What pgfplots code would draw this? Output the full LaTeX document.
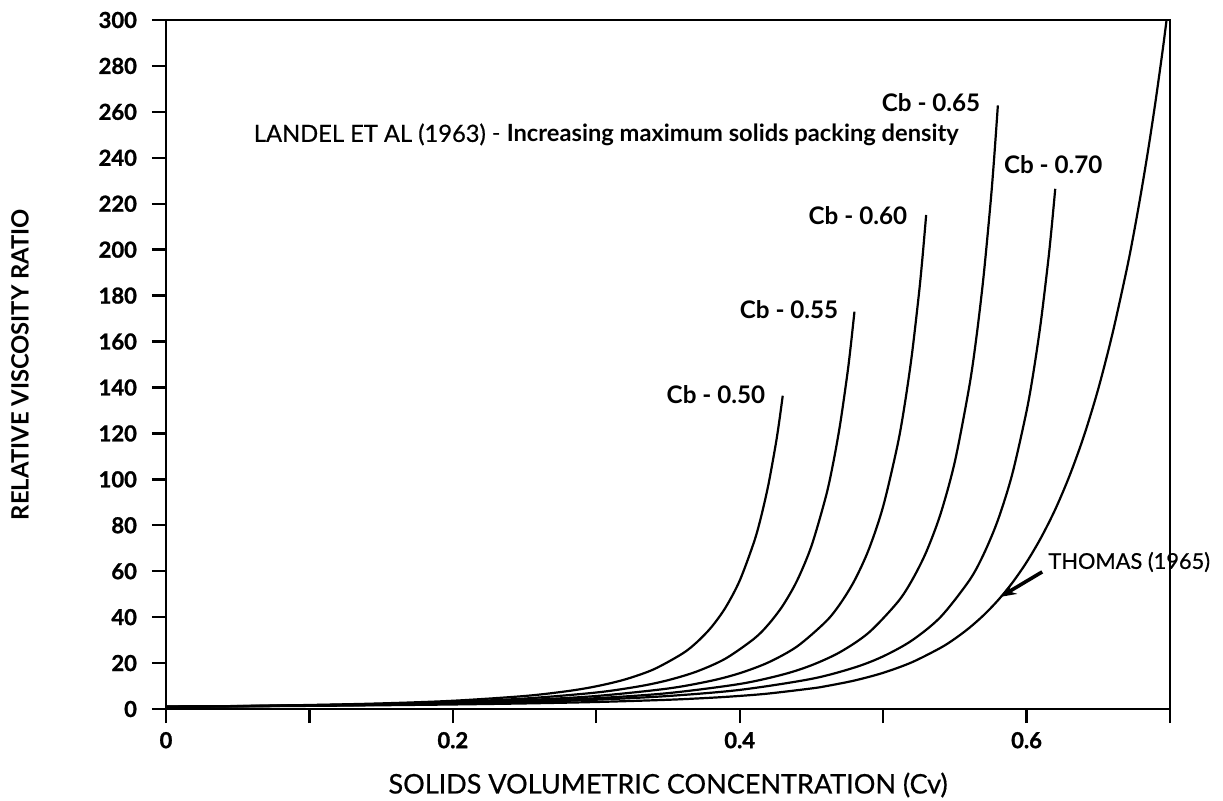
\documentclass[border=0pt]{standalone}
\usepackage{fontspec}
\setmainfont{Lato}
\newfontfamily\heavyfont{Lato}[BoldFeatures={FakeBold=1.2}]
\newfontfamily\mediumfont{Lato}[FakeBold=0.6]
\usepackage{pgfplots}
\pgfplotsset{compat=1.18}
\usetikzlibrary{arrows.meta}

% Relative viscosity of suspensions vs. solids volume fraction.
% Landel et al. (1963) for several maximum packing fractions Cb,
% and the Thomas (1965) correlation.
\pgfplotstableread{
x y
0 1
0.05 1.301
0.10 1.747
0.15 2.439
0.20 3.586
0.25 5.657
0.28 7.787
0.30 9.882
0.32 12.86
0.34 17.26
0.36 24.10
0.37 29.01
0.38 35.44
0.39 44.06
0.40 55.90
0.41 72.75
0.415 83.94
0.42 97.66
0.425 114.8
0.4275 124.9
0.43 136.4
}\cbfifty

\pgfplotstableread{
x y
0 1
0.05 1.269
0.10 1.652
0.15 2.217
0.20 3.096
0.25 4.551
0.30 7.179
0.33 9.882
0.35 12.54
0.37 16.32
0.39 21.91
0.41 30.59
0.42 36.82
0.43 44.98
0.44 55.90
0.45 70.93
0.46 92.32
0.465 106.5
0.47 123.9
0.475 145.6
0.4775 158.5
0.48 173.0
}\cbfiftyfive

\pgfplotstableread{
x y
0 1
0.05 1.243
0.10 1.577
0.15 2.053
0.20 2.756
0.25 3.848
0.30 5.657
0.35 8.922
0.38 12.28
0.40 15.59
0.42 20.29
0.44 27.23
0.46 38.02
0.47 45.76
0.48 55.90
0.49 69.48
0.50 88.18
0.51 114.8
0.515 132.4
0.52 154.0
0.525 181.0
0.5275 197.0
0.53 215.1
}\cbsixty

\pgfplotstableread{
x y
0 1
0.05 1.222
0.10 1.518
0.15 1.927
0.20 2.508
0.25 3.366
0.30 4.700
0.35 6.910
0.40 10.90
0.43 15.00
0.45 19.04
0.47 24.78
0.49 33.26
0.51 46.44
0.52 55.90
0.53 68.28
0.54 84.88
0.55 107.7
0.56 140.2
0.565 161.7
0.57 188.2
0.575 221.1
0.5775 240.7
0.58 262.8
}\cbsixtyfive

\pgfplotstableread{
x y
0 1
0.05 1.204
0.10 1.470
0.15 1.827
0.20 2.319
0.25 3.018
0.30 4.051
0.35 5.657
0.40 8.317
0.45 13.12
0.48 18.06
0.50 22.92
0.52 29.82
0.54 40.03
0.56 55.90
0.57 67.28
0.58 82.20
0.59 102.2
0.60 129.7
0.605 147.4
0.61 168.7
0.615 194.6
0.6175 209.7
0.62 226.5
}\cbseventy

\pgfplotstableread{
x y
0 1.003
0.05 1.156
0.10 1.365
0.15 1.634
0.20 1.978
0.25 2.426
0.30 3.052
0.35 4.017
0.38 4.90
0.40 5.697
0.42 6.73
0.45 8.951
0.46 9.93
0.48 12.40
0.50 15.75
0.52 20.33
0.54 26.62
0.55 30.6
0.56 35.29
0.57 40.8
0.58 47.28
0.59 54.9
0.60 63.9
0.61 74.5
0.62 86.9
0.63 101.6
0.64 118.9
0.65 139.4
0.66 163.7
0.67 191.9
0.675 207.9
0.68 225.4
0.685 244.3
0.69 264.9
0.695 287.3
0.6976 300
}\thomas

\begin{document}
\begin{tikzpicture}
\path[use as bounding box] (-83pt,-45.5pt) rectangle (528.5pt,354.5pt);
\begin{axis}[
  at={(0pt,0pt)}, anchor=south west,
  scale only axis, width=502pt, height=344.5pt,
  xmin=0, xmax=0.7, ymin=0, ymax=300,
  clip=false,
  axis line style={line width=1.3pt},
  tick align=outside,
  xtick pos=bottom, ytick pos=left,
  major tick length=7pt,
  tick style={line width=1.2pt, black},
  xtick={0,0.1,0.2,0.3,0.4,0.5,0.6,0.7},
  xticklabels={0,,0.2,,0.4,,0.6,},
  ytick={0,20,...,300},
  /pgf/number format/assume math mode=true,
  tick label style={font=\fontsize{11}{12}\selectfont\heavyfont\bfseries},
  yticklabel style={xshift=-4pt},
  xticklabel style={yshift=-1pt},
  xlabel={SOLIDS VOLUMETRIC CONCENTRATION (Cv)},
  ylabel={RELATIVE VISCOSITY RATIO},
  xlabel style={at={(axis description cs:0.5,-0.1103)}, anchor=center,
                font=\fontsize{13.5}{15}\selectfont\mediumfont},
  ylabel style={at={(axis description cs:-0.1454,0.5)}, anchor=center,
                font=\fontsize{11.9}{13}\selectfont\bfseries},
  curve/.style={black, line width=1.1pt, smooth, no markers},
]
\addplot[curve] table {\cbfifty};
\addplot[curve] table {\cbfiftyfive};
\addplot[curve] table {\cbsixty};
\addplot[curve] table {\cbsixtyfive};
\addplot[curve] table {\cbseventy};
\addplot[curve] table {\thomas};

\node[anchor=west, font=\fontsize{11.85}{13}\selectfont, inner sep=0pt]
  at (axis cs:0.061,250) {{\mediumfont LANDEL ET AL (1963)} - {\bfseries Increasing maximum solids packing density}};
\begin{scope}[every node/.style={anchor=east, inner sep=0pt, font=\fontsize{12.1}{13}\selectfont\bfseries}]
\node at (axis cs:0.418,136.7) {Cb - 0.50};
\node at (axis cs:0.469,173.7) {Cb - 0.55};
\node at (axis cs:0.517,215) {Cb - 0.60};
\node at (axis cs:0.568,264) {Cb - 0.65};
\node[anchor=west] at (axis cs:0.584,237) {Cb - 0.70};
\end{scope}
\node[anchor=west, inner sep=0pt, font=\fontsize{10.9}{12}\selectfont\mediumfont]
  at (axis cs:0.615,64) {THOMAS (1965)};
\draw[-{Stealth[length=8pt,width=6pt]}, line width=1.8pt]
  (axis cs:0.6109,59.7) -- (axis cs:0.5816,48.8);
\end{axis}
\end{tikzpicture}
\end{document}
